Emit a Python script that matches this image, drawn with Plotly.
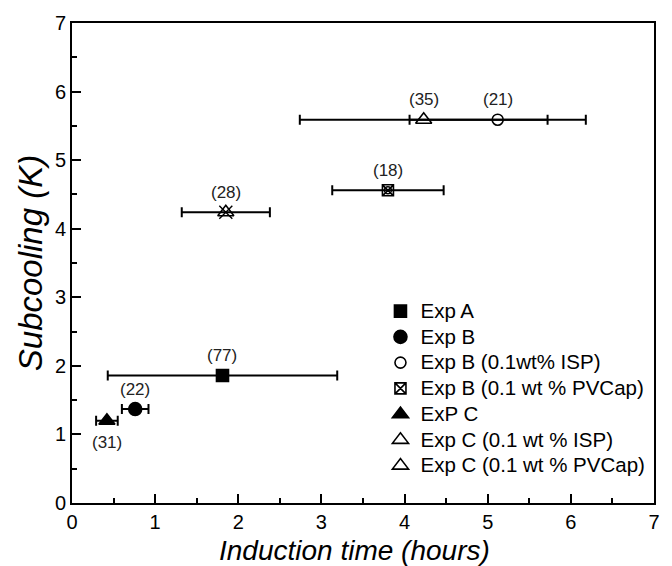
import plotly.graph_objects as go

# ---- data ----
series_names = ["Exp A", "Exp B", "Exp B (0.1wt% ISP)", "Exp B (0.1 wt % PVCap)",
                "ExP C", "Exp C (0.1 wt % ISP)", "Exp C (0.1 wt % PVCap)"]
induction_time = [1.81, 0.76, 5.12, 3.80, 0.42, 4.23, 1.85]
induction_err = [1.38, 0.16, 1.06, 0.67, 0.13, 1.49, 0.53]
subcooling = [1.86, 1.37, 5.59, 4.56, 1.20, 5.59, 4.24]
counts = [77, 22, 21, 18, 31, 35, 28]
label_below = [False, False, False, False, True, False, False]

x_ticks = [0, 1, 2, 3, 4, 5, 6, 7]
y_ticks = [0, 1, 2, 3, 4, 5, 6, 7]

# ---- styles ----
symbols = ["square", "circle", "circle-open", "square-x-open",
           "triangle-up", "triangle-up-open", "triangle-up-open"]
sizes = [12, 13, 11, 11, 14, 14, 14]
overlay = {3: ("circle-open", 7), 6: ("x-thin-open", 13)}

FONT = "Liberation Sans, Arial, sans-serif"

fig = go.Figure()
for i, name in enumerate(series_names):
    fig.add_trace(go.Scatter(
        x=[induction_time[i]], y=[subcooling[i]],
        name=f'<span style="font-size:20.5px">{name}</span>', mode="markers",
        marker=dict(symbol=symbols[i], size=sizes[i], color="black",
                    line=dict(color="black", width=1.6)),
        error_x=dict(type="data", array=[induction_err[i]], color="black",
                     thickness=2, width=5),
        showlegend=True,
    ))
    if i in overlay:
        sym, sz = overlay[i]
        fig.add_trace(go.Scatter(
            x=[induction_time[i]], y=[subcooling[i]], mode="markers",
            marker=dict(symbol=sym, size=sz, color="black",
                        line=dict(color="black", width=1.4)),
            showlegend=False, hoverinfo="skip",
        ))
    fig.add_annotation(
        x=induction_time[i], y=subcooling[i], text=f"({counts[i]})",
        showarrow=False, yshift=-22 if label_below[i] else 20,
        font=dict(family=FONT, size=17, color="#222"),
    )

axis_common = dict(
    range=[0, 7], showline=True, linecolor="black", linewidth=2, mirror=True,
    ticks="inside", ticklen=9, tickwidth=1.5, tickcolor="black",
    showgrid=False, zeroline=False,
    tickfont=dict(family=FONT, size=20, color="black"),
    minor=dict(ticks="inside", ticklen=5, tickwidth=1.5, tickcolor="black", dtick=0.5),
)

fig.update_xaxes(tickvals=x_ticks, **axis_common)
fig.update_yaxes(tickvals=y_ticks, **axis_common,
                 title=dict(text="<i>Subcooling (K)</i>",
                            font=dict(family=FONT, size=33, color="black"), standoff=2))

# x-axis title as a paper-anchored annotation (slightly left of centre in the reference)
fig.add_annotation(
    text="<i>Induction time (hours)</i>", xref="paper", yref="paper",
    x=0.485, y=0, yanchor="top", yshift=-30, showarrow=False,
    font=dict(family=FONT, size=28, color="black"),
)

fig.update_layout(
    width=672, height=566,
    margin=dict(l=72, r=12, t=22, b=63),
    paper_bgcolor="white", plot_bgcolor="white",
    font=dict(family=FONT, color="black"),
    legend=dict(x=0.53, y=0.437, xanchor="left", yanchor="top",
                bgcolor="rgba(0,0,0,0)", font=dict(family=FONT, size=17.5, color="black"),
                itemwidth=30, tracegroupgap=0),
)

fig.write_html("out.html")
